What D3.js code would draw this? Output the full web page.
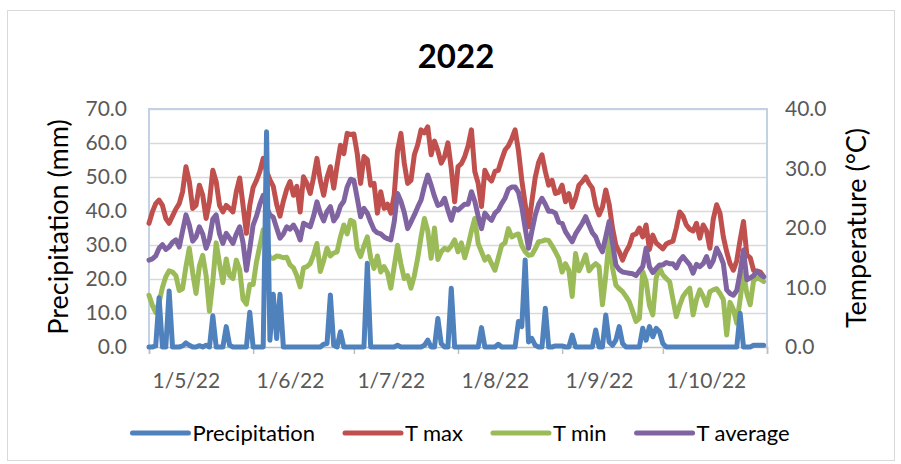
<!DOCTYPE html>
<html>
<head>
<meta charset="utf-8">
<script src="https://d3js.org/d3.v7.min.js"></script>
<style>
body { margin: 0; background: #fff; }
text { font-family: Lato, "Open Sans", sans-serif; }
</style>
</head>
<body>
<div id="chart"></div>
<script>

// daily values, 1 May 2022 - 31 Oct 2022 (one row per month)
var precipitation = [].concat(
	[0, 0, 0.3, 14.5, 0, 0, 16.5, 0, 0, 0, 0.3, 1.2, 0.5, 0, 0, 0.4, 0, 0.5, 0, 9.2, 0, 0, 0, 6.0, 0.5, 0, 0, 0, 0, 0, 10.2],
	[0, 0, 0, 0, 63.3, 2.0, 15.5, 2.5, 15.5, 0, 0, 0, 0, 0, 0, 0, 0, 0, 0, 0, 0, 0.8, 1.0, 15.3, 0.5, 0, 4.5, 0, 0, 0],
	[0, 0, 0, 0, 24.6, 0, 0, 0, 0, 0, 0, 0, 0, 0.5, 0, 0, 0, 0, 0, 0, 0, 0.5, 2.0, 0, 0, 8.4, 1.0, 0, 0, 17.3, 0],
	[0, 0, 0, 0, 0, 0, 0, 5.7, 0, 0, 0, 0, 0.8, 0, 0, 0, 0, 0, 7.5, 6.0, 25.6, 1.5, 2.5, 0.5, 0, 0, 11.4, 0, 0, 0.3, 0.3],
	[0.3, 0, 0, 3.5, 0, 0, 0, 0, 0, 0, 5.0, 0, 0, 9.4, 1.5, 0.5, 2.0, 6.0, 1.0, 0, 0, 0, 0, 0, 5.5, 2.0, 6.0, 3.0, 5.5, 4.5],
	[1.0, 0, 0, 0, 0, 0, 0, 0, 0, 0, 0, 0, 0, 0, 0, 0, 0, 0, 0, 0, 0, 0, 0, 9.9, 0, 0, 0, 0.5, 0.5, 0.5, 0.5]
);

var tMax = [].concat(
	[20.8, 22.7, 24.1, 24.7, 23.8, 21.6, 20.8, 22.0, 23.2, 24.1, 26.1, 30.3, 27.8, 23.3, 23.8, 27.2, 25.5, 21.6, 24.4, 29.7, 27.8, 23.8, 22.7, 23.8, 23.3, 22.7, 26.1, 28.4, 23.8, 19.1, 23.8],
	[26.8, 28.0, 29.5, 31.7, 29.5, 28.1, 27.0, 24.0, 22.0, 24.5, 26.5, 27.8, 25.5, 27.0, 22.7, 28.6, 27.5, 25.8, 28.5, 31.7, 28.0, 25.5, 28.5, 30.3, 26.7, 30.5, 33.9, 32.5, 35.9, 35.7],
	[35.8, 32.5, 27.5, 32.0, 31.5, 27.2, 27.5, 22.5, 26.1, 23.3, 24.0, 22.5, 25.5, 33.0, 35.9, 30.9, 27.5, 28.0, 32.3, 34.0, 36.5, 36.0, 37.0, 32.3, 34.6, 33.0, 30.9, 32.0, 34.3, 30.0, 24.4],
	[30.3, 30.8, 32.0, 33.8, 36.5, 29.5, 27.5, 23.6, 29.7, 28.5, 27.9, 29.5, 29.7, 31.5, 33.1, 33.8, 35.0, 36.5, 33.0, 28.0, 24.0, 20.2, 24.5, 28.5, 31.0, 32.3, 29.5, 27.2, 28.0, 25.8, 26.0],
	[27.2, 24.4, 25.8, 23.5, 25.0, 27.2, 27.8, 28.6, 27.5, 26.7, 23.8, 22.2, 23.5, 26.4, 24.0, 20.0, 17.1, 16.0, 14.6, 16.0, 17.0, 18.8, 19.0, 20.0, 18.5, 20.5, 16.4, 18.8, 17.5, 17.0],
	[16.5, 17.3, 17.6, 17.8, 20.0, 22.7, 22.0, 20.5, 19.8, 19.5, 20.8, 18.3, 20.5, 19.5, 16.6, 21.5, 23.9, 22.5, 18.5, 16.0, 14.0, 12.9, 14.5, 18.0, 21.1, 15.5, 15.0, 12.9, 12.8, 12.6, 11.8]
);

var tMin = [].concat(
	[8.7, 7.0, 5.8, 7.5, 10.0, 11.8, 12.8, 12.6, 12.0, 9.5, 9.8, 13.5, 16.6, 12.5, 9.0, 13.6, 15.4, 12.0, 6.0, 11.0, 17.5, 14.0, 10.8, 14.8, 12.0, 11.5, 14.6, 13.0, 8.0, 7.2, 10.5],
	[10.5, 14.3, 17.0, 19.7, 16.6, 15.0, 14.9, 15.3, 15.2, 15.0, 15.1, 13.8, 13.3, 12.0, 10.1, 13.3, 13.5, 14.0, 15.5, 17.4, 12.7, 14.5, 16.6, 15.3, 15.8, 16.0, 18.5, 20.5, 19.0, 21.3],
	[21.0, 16.5, 15.2, 17.0, 18.5, 15.0, 13.2, 15.3, 12.6, 13.5, 12.5, 9.9, 13.5, 17.1, 14.0, 11.5, 12.0, 9.9, 12.0, 14.9, 18.5, 21.6, 19.5, 14.9, 20.0, 14.7, 16.0, 16.6, 16.3, 17.0, 18.0],
	[16.0, 17.5, 15.0, 17.0, 19.5, 21.6, 17.4, 16.0, 14.6, 15.2, 14.0, 12.9, 15.0, 17.1, 17.5, 19.9, 18.5, 18.8, 19.0, 17.0, 16.0, 15.4, 15.5, 16.5, 17.7, 17.8, 18.0, 17.9, 17.0, 16.0, 14.9],
	[12.6, 14.0, 12.9, 8.5, 15.7, 12.8, 14.0, 15.5, 12.8, 13.5, 14.0, 13.5, 7.1, 12.0, 18.3, 13.3, 10.4, 9.8, 9.3, 8.5, 7.6, 6.0, 4.3, 4.8, 12.7, 11.0, 7.0, 5.4, 11.6, 13.3],
	[12.1, 11.5, 11.0, 8.0, 5.1, 7.0, 8.5, 9.3, 9.9, 5.4, 8.0, 9.6, 8.5, 7.0, 9.3, 9.6, 9.8, 9.0, 8.0, 2.0, 7.5, 6.3, 4.0, 8.0, 12.4, 9.0, 7.1, 11.1, 11.6, 11.4, 11.0]
);

var tAvg = [].concat(
	[14.6, 14.8, 15.3, 16.6, 17.2, 16.4, 16.8, 17.6, 18.0, 16.8, 19.5, 22.2, 20.5, 17.8, 18.5, 20.2, 19.0, 16.6, 18.2, 21.5, 22.2, 19.0, 17.4, 19.1, 18.3, 17.4, 19.0, 20.2, 17.5, 12.9, 16.5],
	[20.5, 22.0, 24.0, 25.5, 23.5, 22.2, 21.8, 20.0, 18.3, 19.0, 20.2, 19.8, 20.5, 19.5, 18.0, 20.8, 20.5, 20.2, 22.0, 24.4, 22.5, 21.2, 22.8, 23.6, 21.2, 22.0, 23.7, 24.5, 26.9, 28.2],
	[28.0, 25.0, 21.9, 23.3, 22.5, 21.0, 19.7, 19.2, 19.0, 18.5, 18.2, 18.0, 21.0, 25.8, 24.5, 22.6, 19.9, 21.0, 22.2, 23.5, 24.7, 27.0, 28.9, 27.2, 25.3, 23.8, 24.0, 25.0, 23.0, 21.3, 23.3],
	[23.0, 23.5, 24.0, 24.0, 26.1, 24.5, 22.0, 19.9, 22.5, 21.8, 21.3, 22.5, 23.0, 24.1, 25.0, 26.5, 26.9, 26.9, 26.0, 23.5, 20.0, 16.6, 19.5, 22.2, 24.0, 25.0, 24.0, 22.8, 22.8, 22.5, 21.0],
	[20.8, 19.4, 18.5, 17.7, 19.0, 19.9, 20.8, 21.9, 20.5, 19.2, 18.5, 17.0, 16.0, 18.5, 21.1, 17.5, 13.8, 13.0, 12.6, 12.5, 12.4, 12.3, 12.0, 12.8, 13.5, 16.6, 13.5, 12.5, 13.2, 13.8],
	[13.8, 14.2, 14.0, 14.0, 13.3, 14.5, 15.2, 14.5, 13.8, 12.4, 13.9, 13.5, 14.0, 15.2, 13.5, 14.5, 16.6, 15.5, 14.0, 9.6, 9.0, 8.7, 9.5, 12.5, 16.3, 11.3, 11.6, 12.0, 12.7, 12.2, 11.8]
);

var precipTicks = [0, 10, 20, 30, 40, 50, 60, 70];
var tempTicks = [0, 10, 20, 30, 40];
var monthTicks = ["2022-05-01", "2022-06-01", "2022-07-01", "2022-08-01", "2022-09-01", "2022-10-01", "2022-11-01"];
var seriesNames = ["Precipitation", "T max", "T min", "T average"];

var days = d3.timeDay.range(new Date(2022, 4, 1), new Date(2022, 10, 1));
var parseDay = d3.timeParse("%Y-%m-%d");

var width = 901, height = 464;
var plot = { left: 149, right: 767, top: 109, bottom: 347 };

var svg = d3.select("#chart").append("svg")
	.attr("width", width)
	.attr("height", height);

// chart area border
svg.append("rect")
	.attr("x", 7.5).attr("y", 10.5)
	.attr("width", 887).attr("height", 450)
	.attr("fill", "#fff")
	.attr("stroke", "#d9d9d9");

var x = d3.scaleTime()
	.domain([parseDay(monthTicks[0]), parseDay(monthTicks[monthTicks.length - 1])])
	.range([plot.left, plot.right]);

var yP = d3.scaleLinear().domain([0, 70]).range([plot.bottom, plot.top]);
var yT = d3.scaleLinear().domain([0, 40]).range([plot.bottom, plot.top]);

var color = d3.scaleOrdinal()
	.domain(seriesNames)
	.range(["#4f81bd", "#c0504d", "#9bbb59", "#8064a2"]);

// gridlines
svg.append("g")
	.attr("transform", "translate(" + plot.left + ",0)")
	.call(d3.axisLeft(yP).tickValues(precipTicks.slice(1)).tickSize(-(plot.right - plot.left)).tickFormat(""))
	.call(function(g){ g.select(".domain").remove(); })
	.selectAll("line")
	.attr("stroke", "#d9d9d9")
	.attr("stroke-width", 1.5);

// plot frame (left, top, right)
svg.append("path")
	.attr("d", "M" + plot.left + "," + plot.bottom + "V" + plot.top + "H" + plot.right + "V" + plot.bottom)
	.attr("fill", "none")
	.attr("stroke", "#c3d1e4")
	.attr("stroke-width", 2);

// left axis
var leftAxis = svg.append("g")
	.attr("transform", "translate(" + plot.left + ",0)")
	.call(d3.axisLeft(yP).tickValues(precipTicks).tickSize(0).tickPadding(22).tickFormat(d3.format(".1f")));
leftAxis.select(".domain").remove();
leftAxis.selectAll("text")
	.attr("font-size", 21)
	.attr("fill", "#595959")
	.style("font-family", "Lato, sans-serif");

// right axis
var rightAxis = svg.append("g")
	.attr("transform", "translate(" + plot.right + ",0)")
	.call(d3.axisRight(yT).tickValues(tempTicks).tickSize(0).tickPadding(18).tickFormat(d3.format(".1f")));
rightAxis.select(".domain").remove();
rightAxis.selectAll("text")
	.attr("font-size", 21)
	.attr("fill", "#595959")
	.style("font-family", "Lato, sans-serif");

// bottom axis, labels sit right of each month tick
var bottomAxis = svg.append("g")
	.attr("transform", "translate(0," + plot.bottom + ")")
	.call(d3.axisBottom(x)
		.tickValues(monthTicks.map(parseDay))
		.tickSize(7)
		.tickFormat(function(d, i){ return i < monthTicks.length - 1 ? d3.timeFormat("%-d/%-m/%y")(d) : ""; }));
bottomAxis.select(".domain").attr("stroke", "#bfbfbf").attr("stroke-width", 1.5);
bottomAxis.selectAll(".tick line").attr("stroke", "#bfbfbf").attr("stroke-width", 1.5);
bottomAxis.selectAll("text")
	.attr("text-anchor", "start")
	.attr("x", 3)
	.attr("y", 41)
	.attr("dy", 0)
	.attr("font-size", 21)
	.attr("fill", "#595959")
	.style("font-family", "Lato, sans-serif");

// series lines, precipitation drawn last (on top)
var tempLine = d3.line()
	.x(function(d, i){ return x(days[i]); })
	.y(function(d){ return yT(d); });

var precipLine = d3.line()
	.x(function(d, i){ return x(days[i]); })
	.y(function(d){ return yP(d); });

var lines = svg.append("g").attr("class", "lines");

[["T max", tMax], ["T min", tMin], ["T average", tAvg]].forEach(function(s){
	lines.append("path")
		.datum(s[1])
		.attr("d", tempLine)
		.attr("fill", "none")
		.attr("stroke", color(s[0]))
		.attr("stroke-width", 5)
		.attr("stroke-linejoin", "round")
		.attr("stroke-linecap", "round");
});

lines.append("path")
	.datum(precipitation)
	.attr("d", precipLine)
	.attr("fill", "none")
	.attr("stroke", color("Precipitation"))
	.attr("stroke-width", 5)
	.attr("stroke-linejoin", "round")
	.attr("stroke-linecap", "round");

// title
svg.append("text")
	.attr("x", 456)
	.attr("y", 68)
	.attr("text-anchor", "middle")
	.attr("font-size", 33)
	.attr("font-weight", "bold")
	.attr("fill", "#000")
	.text("2022");

// axis titles
svg.append("text")
	.attr("transform", "translate(68,227) rotate(-90)")
	.attr("text-anchor", "middle")
	.attr("font-size", 27)
	.attr("fill", "#000")
	.text("Precipitation (mm)");

svg.append("text")
	.attr("transform", "translate(866,228) rotate(-90)")
	.attr("text-anchor", "middle")
	.attr("font-size", 27)
	.attr("fill", "#000")
	.text("Temperature (°C)");

// legend
var legend = svg.append("g").attr("class", "legend");
var lx = 0, legendY = 433;
seriesNames.forEach(function(name){
	legend.append("line")
		.attr("x1", lx).attr("x2", lx + 56)
		.attr("y1", legendY).attr("y2", legendY)
		.attr("stroke", color(name))
		.attr("stroke-width", 5)
		.attr("stroke-linecap", "round");
	var t = legend.append("text")
		.attr("x", lx + 60)
		.attr("y", legendY)
		.attr("dy", "0.35em")
		.attr("font-size", 22)
		.attr("fill", "#000")
		.text(name);
	lx += 60 + t.node().getComputedTextLength() + 30;
});
var legendWidth = lx - 30;
legend.attr("transform", "translate(" + (461 - legendWidth / 2) + ",0)");

</script>
</body>
</html>
